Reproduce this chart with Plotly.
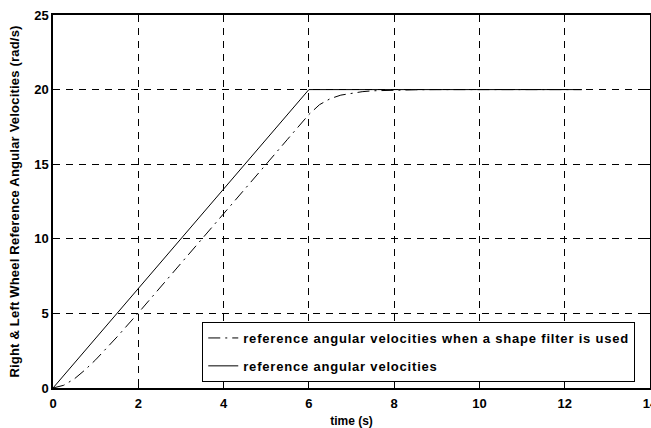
import plotly.graph_objects as go

# Data
t_ref = [0, 6, 12.4]
w_ref = [0, 20, 20]

t_shape = [0, 0.25, 0.5, 0.75, 1.0, 1.25, 1.5, 2.0, 2.5, 3.0, 3.5, 4.0, 4.5, 5.0, 5.5, 6.0,
           6.25, 6.5, 6.75, 7.0, 7.25, 7.5, 8.0, 8.5, 9.0, 10.0, 11.0, 12.0, 12.4]
w_shape = [0, 0.18, 0.61, 1.21, 1.89, 2.64, 3.42, 5.03, 6.68, 8.34, 10.0, 11.67, 13.33, 15.0, 16.67, 18.33,
           18.99, 19.39, 19.63, 19.77, 19.86, 19.92, 19.97, 19.99, 20, 20, 20, 20, 20]

x_ticks = [0, 2, 4, 6, 8, 10, 12, 14]
y_ticks = [0, 5, 10, 15, 20, 25]

name_shape = "reference angular velocities when a shape filter is used"
name_ref = "reference angular velocities"
x_title = "time (s)"
y_title = "Right & Left Wheel Reference Angular Velocities (rad/s)"

FONT = "Liberation Sans, Arial, sans-serif"


def spaced(s, px):
    return f"<span style='letter-spacing:{px}px'><b>{s}</b></span>"


fig = go.Figure()
fig.add_trace(go.Scatter(x=t_shape, y=w_shape, mode="lines", name=spaced(name_shape, 0.8),
                         legendgroup="a",
                         line=dict(color="black", width=1, dash="12px,5px,2px,5px")))
fig.add_trace(go.Scatter(x=t_ref, y=w_ref, mode="lines", name=spaced(name_ref, 0.8),
                         legendgroup="b",
                         line=dict(color="black", width=1)))

axis_common = dict(
    showline=True, linecolor="black", linewidth=1.5, mirror="ticks",
    ticks="inside", ticklen=5, tickcolor="black", tickwidth=1,
    showgrid=True, gridcolor="black", gridwidth=1, griddash="7px,6px",
    zeroline=False, ticklabeloverflow="allow",
    tickfont=dict(family=FONT, size=13, color="black", weight="bold"),
)

fig.update_xaxes(range=[0, 14], tickvals=x_ticks, **axis_common, ticklabelstandoff=3,
                 title=dict(text=spaced(x_title, 0), standoff=6,
                            font=dict(family=FONT, size=12, color="black")))
fig.update_yaxes(range=[0, 25], tickvals=y_ticks, **axis_common,
                 title=dict(text=spaced(y_title, 0.2), standoff=12,
                            font=dict(family=FONT, size=13, color="black")))

fig.update_layout(
    width=651, height=428,
    margin=dict(l=53, r=1, t=15, b=40, autoexpand=False),
    paper_bgcolor="white", plot_bgcolor="white",
    showlegend=True,
    legend=dict(x=0.25, y=(388 - 322) / 373, xanchor="left", yanchor="top",
                bgcolor="white", bordercolor="black", borderwidth=1,
                font=dict(family=FONT, size=13, color="black"),
                tracegroupgap=8, itemwidth=30),
)

fig.write_html("out.html")
